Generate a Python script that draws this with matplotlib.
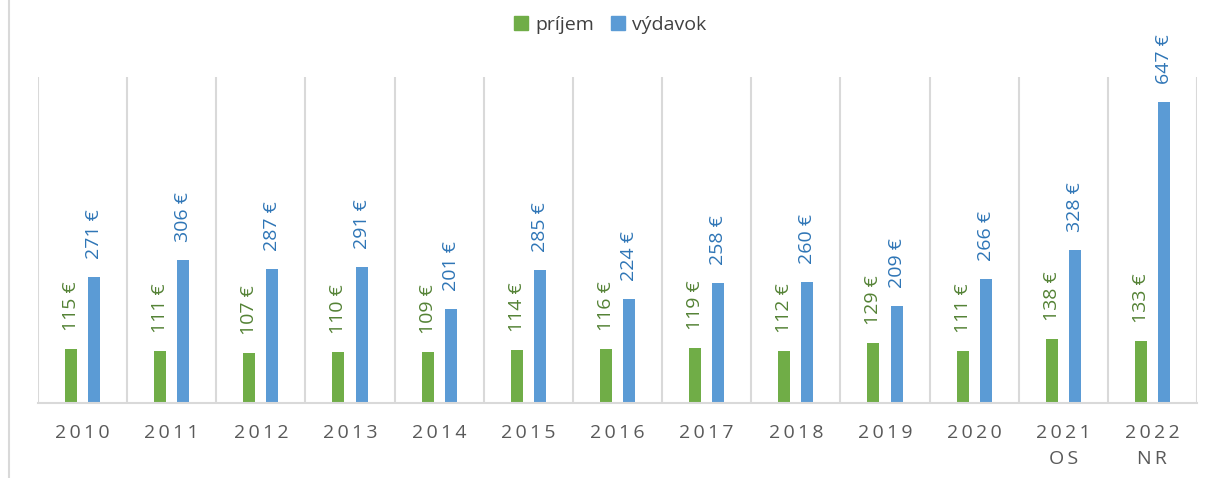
import numpy as np
import matplotlib.pyplot as plt
from matplotlib.lines import Line2D

years = ["2010", "2011", "2012", "2013", "2014", "2015", "2016",
         "2017", "2018", "2019", "2020", "2021\nOS", "2022\nNR"]
prijem = [115, 111, 107, 110, 109, 114, 116, 119, 112, 129, 111, 138, 133]
vydavok = [271, 306, 287, 291, 201, 285, 224, 258, 260, 209, 266, 328, 647]

GREEN = '#70AD47'
BLUE = '#5B9BD5'
GREEN_TXT = '#548235'
BLUE_TXT = '#2E75B6'
GRID = '#D9D9D9'

plt.rcParams['font.family'] = ['Open Sans', 'DejaVu Sans']

fig = plt.figure(figsize=(12.13, 4.78), dpi=100)
ax = fig.add_axes([38 / 1213, 1 - 403 / 478, (1197 - 38) / 1213, (403 - 77) / 478])

x = np.arange(len(years))
w = 0.135
off = 0.13
b1 = ax.bar(x - off, prijem, w, color=GREEN, label='príjem')
b2 = ax.bar(x + off, vydavok, w, color=BLUE, label='výdavok')

# value labels, rotated above each bar
for bars, vals, col in ((b1, prijem, GREEN_TXT), (b2, vydavok, BLUE_TXT)):
    for r, v in zip(bars, vals):
        ax.annotate(f"{v} €", (r.get_x() + r.get_width() / 2, r.get_height()),
                    xytext=(0, 13), textcoords='offset points', rotation=90,
                    ha='center', va='bottom', color=col, fontsize=14)

ax.set_xlim(-0.5, len(years) - 0.5)
ax.set_ylim(0, 700)
ax.set_yticks([])
for b in np.arange(-0.5, len(years), 1.0):
    ax.axvline(b, color=GRID, lw=1.5, zorder=0)
for s in ('top', 'right', 'left'):
    ax.spines[s].set_visible(False)
ax.spines['bottom'].set_color(GRID)
ax.spines['bottom'].set_linewidth(1.5)

spaced = ["\n".join("\u2009".join(part) for part in y.split("\n")) for y in years]
ax.set_xticks(x)
ax.set_xticklabels(spaced, fontsize=14, color='#595959', linespacing=1.6)
ax.tick_params(axis='x', length=0, pad=15)

handles = [Line2D([], [], marker='s', ls='', color=GREEN, markersize=10),
           Line2D([], [], marker='s', ls='', color=BLUE, markersize=10)]
fig.legend(handles, ['príjem', 'výdavok'], loc='center', bbox_to_anchor=(0.5, 1 - 25 / 478),
           ncol=2, frameon=False, fontsize=14, handletextpad=-0.05, columnspacing=0.5,
           handlelength=1.5, labelcolor='#404040')

fig.add_artist(Line2D([9 / 1213, 9 / 1213], [0, 1], color=GRID, lw=1.5))

fig.savefig('out.png', dpi=100)
